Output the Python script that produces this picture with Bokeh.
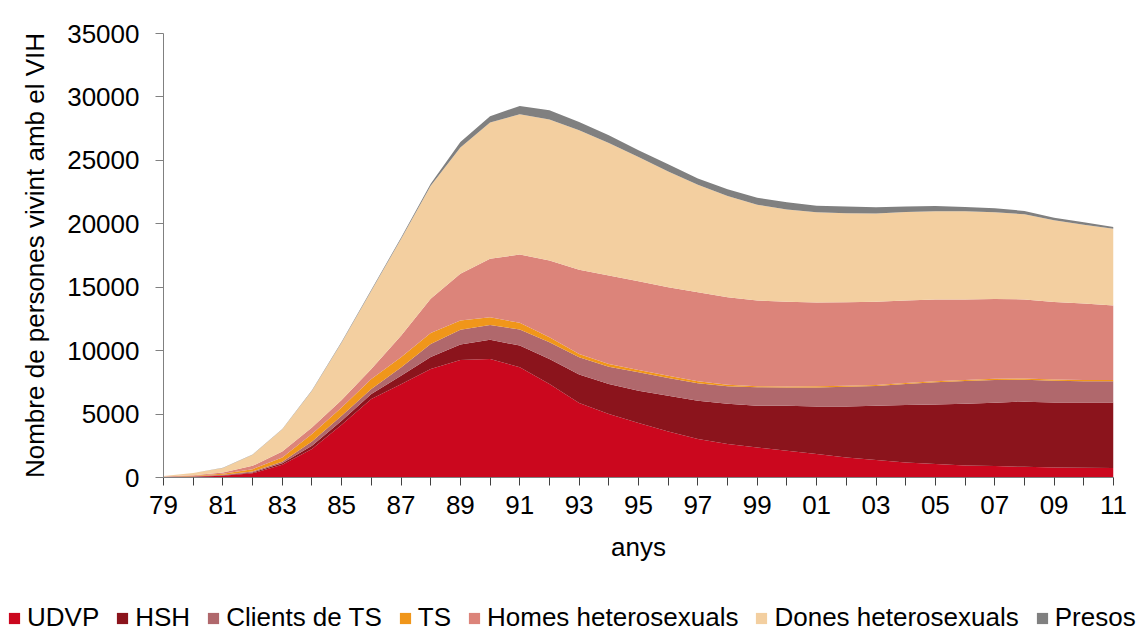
from bokeh.plotting import figure
from bokeh.models import ColumnDataSource, Range1d, FixedTicker, Legend
from bokeh.embed import file_html
from bokeh.resources import INLINE

years = list(range(1979, 2012))
tick_labels = {y: (f"{y % 100:02d}" if (y - 1979) % 2 == 0 else "") for y in years}

series_names = ["UDVP", "HSH", "Clients de TS", "TS", "Homes heterosexuals",
                "Dones heterosexuals", "Presos"]

udvp = [30, 60, 130, 330, 1000, 2240, 4160, 6180, 7360, 8560, 9270, 9350, 8690, 7370,
        5870, 5010, 4300, 3630, 3030, 2640, 2370, 2110, 1850, 1580, 1370, 1180, 1060,
        950, 900, 840, 790, 760, 740]
hsh = [10, 20, 40, 70, 130, 260, 310, 400, 660, 940, 1210, 1500, 1710, 1980, 2240,
       2360, 2540, 2820, 3020, 3180, 3290, 3550, 3750, 4020, 4290, 4530, 4700, 4870,
       5000, 5140, 5130, 5160, 5180]
clients = [10, 20, 50, 80, 110, 340, 400, 390, 660, 1030, 1160, 1180, 1260, 1310, 1370,
           1370, 1450, 1400, 1370, 1380, 1450, 1440, 1500, 1560, 1550, 1660, 1740, 1790,
           1790, 1730, 1710, 1660, 1660]
ts = [10, 30, 80, 180, 340, 580, 650, 790, 790, 870, 730, 600, 530, 390, 260, 210, 190,
      180, 160, 120, 80, 80, 90, 80, 90, 80, 80, 80, 90, 100, 100, 100, 100]
homes = [20, 50, 100, 260, 470, 530, 580, 790, 1710, 2700, 3690, 4610, 5390, 6060, 6640,
         6970, 6990, 6970, 7030, 6890, 6760, 6680, 6600, 6580, 6550, 6500, 6450, 6340,
         6290, 6230, 6110, 6030, 5880]
dones = [40, 170, 350, 880, 1760, 2890, 4550, 6180, 7620, 8900, 9950, 10740, 11050,
         11110, 10990, 10450, 9790, 9130, 8470, 7990, 7560, 7270, 7110, 7020, 6970, 6970,
         6950, 6950, 6840, 6710, 6430, 6220, 6050]
presos = [0, 0, 10, 10, 20, 30, 50, 70, 100, 160, 440, 500, 660, 730, 660, 610, 530, 560,
          480, 520, 550, 570, 530, 530, 480, 450, 420, 340, 320, 260, 210, 200, 130]

y_ticks = [0, 5000, 10000, 15000, 20000, 25000, 30000, 35000]

colors = ["#CB071E", "#8B141C", "#B0686C", "#F0961A", "#DC847A", "#F3CFA0", "#808080"]

source = ColumnDataSource(dict(year=years, **{
    "UDVP": udvp, "HSH": hsh, "Clients de TS": clients, "TS": ts,
    "Homes heterosexuals": homes, "Dones heterosexuals": dones, "Presos": presos}))

FONT = "Liberation Sans"
W = 1146
LEG_H = 40
MAIN_H = 633 - LEG_H
LEFT = 163
RIGHT = 33

p = figure(width=W, height=MAIN_H, output_backend="svg", toolbar_location=None,
           x_range=Range1d(1979, 2011), y_range=Range1d(0, 35000),
           min_border_left=LEFT, min_border_right=RIGHT, min_border_top=33,
           min_border_bottom=MAIN_H - 477)
p.outline_line_color = None
p.xgrid.visible = False
p.ygrid.visible = False
p.background_fill_color = "white"

renderers = p.varea_stack(stackers=series_names, x="year", color=colors, source=source)

# axes
xa = p.xaxis[0]
xa.ticker = FixedTicker(ticks=years)
xa.major_label_overrides = tick_labels
xa.minor_tick_line_color = None
xa.major_tick_in = 0
xa.major_tick_out = 8
xa.major_tick_line_color = "#404040"
xa.axis_line_color = "#808080"
xa.major_label_text_font = FONT
xa.major_label_text_font_size = "26px"
xa.major_label_text_color = "black"
xa.major_label_standoff = 10
xa.axis_label = "anys"
xa.axis_label_text_font = FONT
xa.axis_label_text_font_size = "26px"
xa.axis_label_text_font_style = "normal"
xa.axis_label_text_color = "black"
xa.axis_label_standoff = 15

ya = p.yaxis[0]
ya.ticker = FixedTicker(ticks=y_ticks)
ya.minor_tick_line_color = None
ya.major_tick_in = 0
ya.major_tick_out = 8
ya.major_tick_line_color = "#808080"
ya.axis_line_color = "#808080"
ya.major_label_text_font = FONT
ya.major_label_text_font_size = "26px"
ya.major_label_text_color = "black"
ya.major_label_standoff = 16
ya.axis_label = "Nombre de persones vivint amb el VIH"
ya.axis_label_text_font = FONT
ya.axis_label_text_font_size = "26px"
ya.axis_label_text_font_style = "normal"
ya.axis_label_text_color = "black"
ya.axis_label_standoff = 14

# legend strip below the chart (its own small figure; the areas there fall outside its range)
pl = figure(width=W, height=LEG_H, output_backend="svg", toolbar_location=None,
            x_range=Range1d(0, 1), y_range=Range1d(0, 1),
            x_axis_type=None, y_axis_type=None,
            min_border_left=0, min_border_right=0, min_border_top=0,
            min_border_bottom=0)
pl.outline_line_color = None
pl.xgrid.visible = False
pl.ygrid.visible = False
leg_renderers = pl.varea_stack(stackers=series_names, x="year", color=colors, source=source)

legend = Legend(items=[(n, [r]) for n, r in zip(series_names, leg_renderers)],
                orientation="horizontal", location=(7, 0))
legend.label_text_font = FONT
legend.label_text_font_size = "26px"
legend.label_text_color = "black"
legend.glyph_width = 14
legend.glyph_height = 14
legend.label_standoff = 6
legend.spacing = 16
legend.padding = 0
legend.margin = 0
legend.border_line_color = None
legend.background_fill_alpha = 0
pl.add_layout(legend, "center")

open("out.html", "w").write(file_html([p, pl], INLINE))
